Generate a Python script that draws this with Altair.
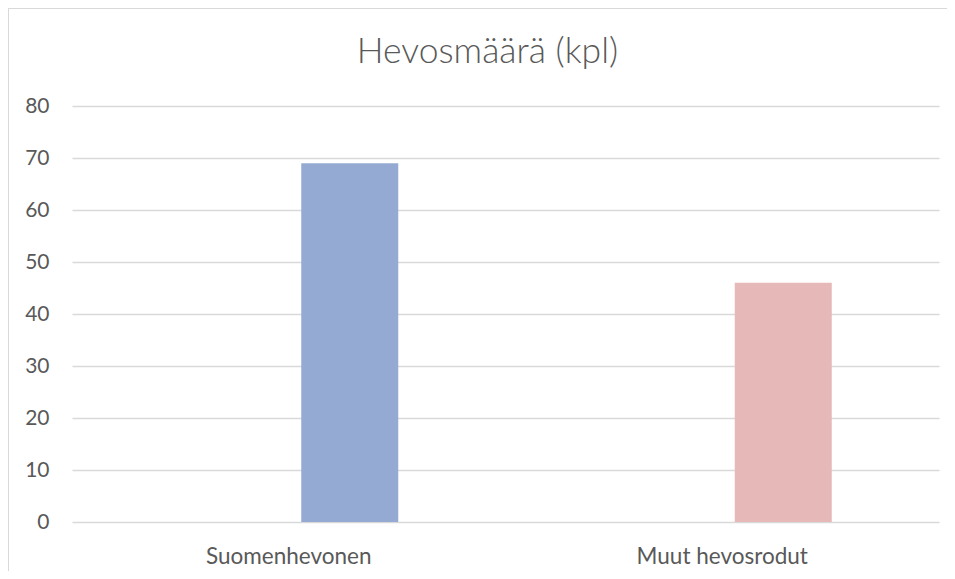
import altair as alt
import pandas as pd

categories = ["Suomenhevonen", "Muut hevosrodut"]
values = [69, 46]
colors = ["#95AAD3", "#E6B8B7"]
y_ticks = [0, 10, 20, 30, 40, 50, 60, 70, 80]
title_text = "Hevosmäärä (kpl)"

df = pd.DataFrame({"rotu": categories, "kpl": values})

FONT = "Lato"
TXT = "#595959"
W, H = 867, 416
PAD_L, PAD_T, PAD_R, PAD_B = 64, 98, 8, 49

bars = alt.Chart(df).mark_bar(width=97, xOffset=61).encode(
    x=alt.X("rotu:N", sort=categories,
            scale=alt.Scale(paddingInner=0, paddingOuter=0),
            axis=alt.Axis(title=None, labelAngle=0, domain=False, ticks=False,
                          labelPadding=41, labelBaseline="alphabetic",
                          labelFont=FONT, labelFontSize=22.5, labelColor=TXT)),
    y=alt.Y("kpl:Q",
            scale=alt.Scale(domain=[0, 80], nice=False),
            axis=alt.Axis(title=None, values=y_ticks, domain=False, ticks=False,
                          labelPadding=23, labelFont=FONT, labelFontSize=21,
                          labelColor=TXT, grid=True, gridColor="#D9D9D9",
                          gridWidth=1.5)),
    color=alt.Color("rotu:N", scale=alt.Scale(domain=categories, range=colors),
                    legend=None),
)

border_top = alt.Chart(df).mark_rule(color="#D9D9D9", strokeWidth=1).encode(
    x=alt.value(-PAD_L), x2=alt.value(W + PAD_R), y=alt.value(-PAD_T + 0.5)
)
border_left = alt.Chart(df).mark_rule(color="#D9D9D9", strokeWidth=1).encode(
    x=alt.value(-PAD_L + 0.5), y=alt.value(-PAD_T), y2=alt.value(H + PAD_B)
)

chart = alt.layer(bars, border_top, border_left).properties(
    width=W, height=H,
    title=alt.TitleParams(title_text, font=FONT, fontSize=35.5, fontWeight=300,
                          color=TXT, anchor="middle", dx=-18, offset=0, dy=91,
                          baseline="alphabetic"),
    autosize=alt.AutoSizeParams(type="none"),
    padding={"left": PAD_L, "top": PAD_T, "right": PAD_R, "bottom": PAD_B},
).configure_view(stroke=None)

chart.save("out.html", embed_options={"renderer": "svg", "actions": False})
